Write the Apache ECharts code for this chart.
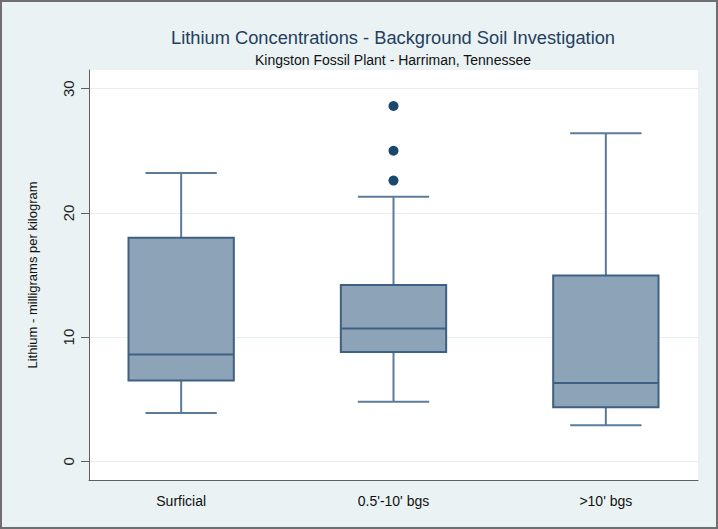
<!DOCTYPE html>
<html>
<head>
<meta charset="utf-8">
<script src="https://cdn.jsdelivr.net/npm/echarts@6/dist/echarts.min.js"></script>
<style>
  html, body { margin: 0; padding: 0; background: #ffffff; }
  #frame { width: 718px; height: 529px; box-sizing: border-box; border: 2px solid #6f6f6f; background: #EAF2F3; }
  #chart { width: 714px; height: 525px; }
</style>
</head>
<body>
<div id="frame"><div id="chart"></div></div>
<script>
// Lithium concentrations by sampling depth (mg/kg)
const categories = ['Surficial', "0.5'-10' bgs", ">10' bgs"];
const lowerWhisker = [3.9, 4.8, 2.9];
const quartile1 = [6.5, 8.8, 4.35];
const median = [8.6, 10.7, 6.3];
const quartile3 = [18.0, 14.2, 14.95];
const upperWhisker = [23.2, 21.3, 26.4];
const outlierGroup = [1, 1, 1];
const outlierValues = [28.6, 25.0, 22.6];
const yTicks = [0, 10, 20, 30];

const FONT = "'Liberation Sans', Arial, sans-serif";

const boxRows = categories.map((c, i) => [i, lowerWhisker[i], quartile1[i], median[i], quartile3[i], upperWhisker[i]]);
const outlierPoints = outlierValues.map((v, i) => [outlierGroup[i], v]);

function renderBox(params, api) {
  const i = api.value(0);
  const unit = api.size([1, 0])[0];
  const boxHalf = unit * 0.248;
  const capHalf = unit * 0.168;
  const pLow = api.coord([i, api.value(1)]);
  const pQ1 = api.coord([i, api.value(2)]);
  const pMed = api.coord([i, api.value(3)]);
  const pQ3 = api.coord([i, api.value(4)]);
  const pHigh = api.coord([i, api.value(5)]);
  const cx = pMed[0];
  const whisker = { stroke: '#5B7B9B', lineWidth: 2 };
  const edge = { stroke: '#3E6082', lineWidth: 2 };
  return {
    type: 'group',
    children: [
      { type: 'line', shape: { x1: cx, y1: pQ3[1], x2: cx, y2: pHigh[1] }, style: whisker },
      { type: 'line', shape: { x1: cx, y1: pQ1[1], x2: cx, y2: pLow[1] }, style: whisker },
      { type: 'line', shape: { x1: cx - capHalf, y1: pHigh[1], x2: cx + capHalf, y2: pHigh[1] }, style: whisker },
      { type: 'line', shape: { x1: cx - capHalf, y1: pLow[1], x2: cx + capHalf, y2: pLow[1] }, style: whisker },
      { type: 'rect', shape: { x: cx - boxHalf, y: pQ3[1], width: boxHalf * 2, height: pQ1[1] - pQ3[1] },
        style: { fill: '#8DA3B8', stroke: '#3E6082', lineWidth: 2 } },
      { type: 'line', shape: { x1: cx - boxHalf, y1: pMed[1], x2: cx + boxHalf, y2: pMed[1] }, style: edge }
    ]
  };
}

const chart = echarts.init(document.getElementById('chart'), null, { renderer: 'svg' });
chart.setOption({
  animation: false,
  backgroundColor: '#EAF2F3',
  title: [
    { text: 'Lithium Concentrations - Background Soil Investigation', left: 386, top: 30,
      textAlign: 'center', textVerticalAlign: 'middle',
      textStyle: { fontFamily: FONT, fontSize: 18.3, fontWeight: 'normal', color: '#24405E' } },
    { text: 'Kingston Fossil Plant - Harriman, Tennessee', left: 386, top: 53,
      textAlign: 'center', textVerticalAlign: 'middle',
      textStyle: { fontFamily: FONT, fontSize: 14, fontWeight: 'normal', color: '#111111' } }
  ],
  grid: { left: 87, top: 68, right: 18, bottom: 47, show: true, backgroundColor: '#ffffff', borderWidth: 0 },
  xAxis: {
    type: 'value', min: -0.434, max: 2.434,
    axisLine: { show: true, onZero: false, lineStyle: { color: '#5f5f5f', width: 1 } },
    axisTick: { show: false },
    splitLine: { show: false },
    axisLabel: {
      customValues: [0, 1, 2],
      formatter: v => categories[Math.round(v)],
      fontFamily: FONT, fontSize: 14, color: '#111111', margin: 14
    }
  },
  yAxis: {
    type: 'value', min: -1.5, max: 31.5,
    name: 'Lithium - milligrams per kilogram', nameLocation: 'middle', nameGap: 50,
    nameTextStyle: { fontFamily: FONT, fontSize: 13, color: '#111111' },
    axisLine: { show: true, onZero: false, lineStyle: { color: '#5f5f5f', width: 1 } },
    axisTick: { show: true, length: 8, customValues: yTicks, lineStyle: { color: '#5f5f5f' } },
    axisLabel: { customValues: yTicks, rotate: 90, fontFamily: FONT, fontSize: 15, color: '#222222', margin: 13 },
    splitLine: { show: true, lineStyle: { color: '#E6EFF1', width: 1 } }
  },
  series: [
    { type: 'custom', renderItem: renderBox, data: boxRows, silent: true,
      encode: { x: 0, y: [1, 2, 3, 4, 5] } },
    { type: 'scatter', data: outlierPoints, symbol: 'circle', symbolSize: 10, silent: true,
      itemStyle: { color: '#1A476F', opacity: 1 } }
  ]
});
</script>
</body>
</html>
